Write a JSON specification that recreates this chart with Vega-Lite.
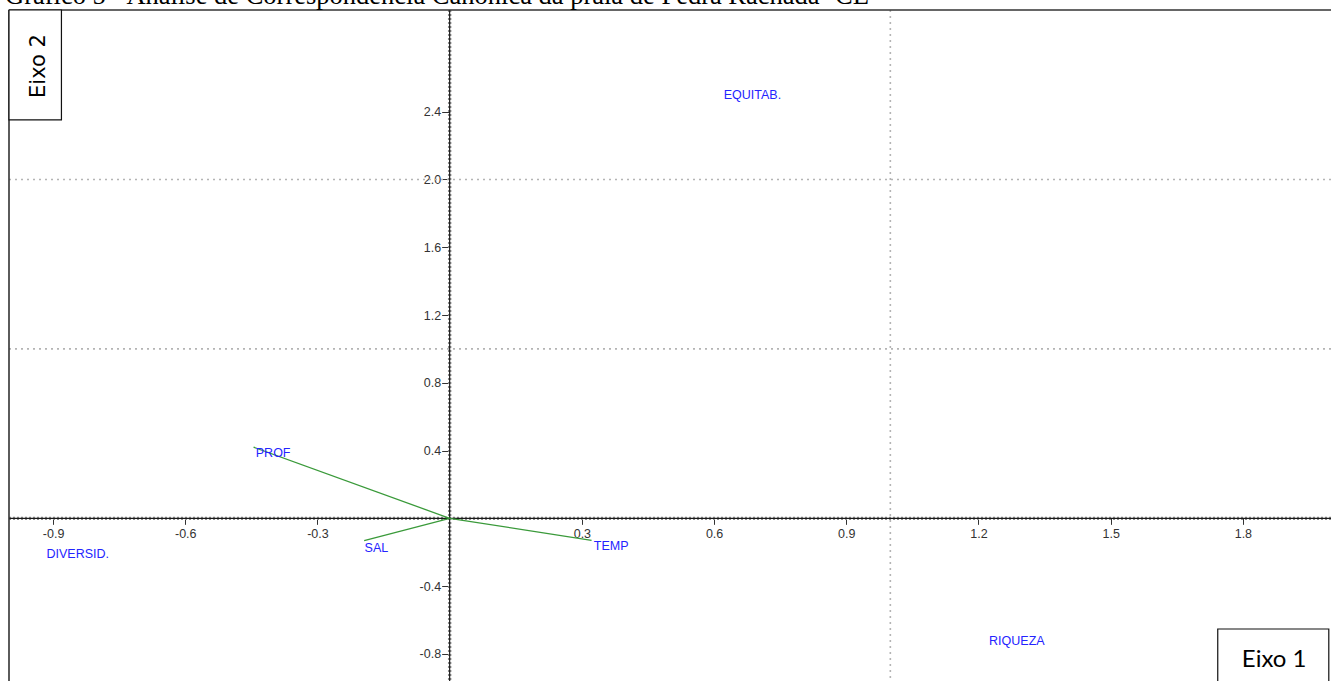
{
  "$schema": "https://vega.github.io/schema/vega-lite/v6.json",
  "width": 1322,
  "height": 671,
  "autosize": {"type": "none"},
  "padding": {"left": 9, "top": 10, "right": 0, "bottom": 0},
  "background": "white",
  "config": {
    "view": {"stroke": null},
    "axis": {
      "grid": false,
      "domain": false,
      "title": null,
      "labelFont": "Liberation Sans",
      "labelFontSize": 12.5,
      "labelColor": "#333333",
      "tickColor": "#333333",
      "tickWidth": 1,
      "labelOverlap": false,
      "labelFlush": false,
      "labelExpr": "replace(format(datum.value, '.1f'), '\u2212', '-')"
    }
  },
  "layer": [
    {
      "data": {"values": [{"valor": 1}]},
      "mark": {"type": "rule", "color": "#b4b4b4", "strokeWidth": 1.6, "strokeDash": [2, 4]},
      "encoding": {
        "x": {"field": "valor", "type": "quantitative", "scale": {"domain": [-1, 2], "nice": false, "zero": false}}
      }
    },
    {
      "data": {"values": [{"valor": 1}, {"valor": 2}]},
      "mark": {"type": "rule", "color": "#b4b4b4", "strokeWidth": 1.6, "strokeDash": [2, 4]},
      "encoding": {
        "y": {"field": "valor", "type": "quantitative", "scale": {"domain": [-0.96, 3], "nice": false, "zero": false}}
      }
    },
    {
      "data": {"values": [{"valor": 0}]},
      "mark": {"type": "rule", "color": "#8c8c8c", "strokeWidth": 3.4, "strokeDash": [2, 2]},
      "encoding": {
        "x": {"field": "valor", "type": "quantitative", "scale": {"domain": [-1, 2], "nice": false, "zero": false}}
      }
    },
    {
      "data": {"values": [{"valor": 0}]},
      "mark": {"type": "rule", "color": "#8c8c8c", "strokeWidth": 3.4, "strokeDash": [2, 2]},
      "encoding": {
        "y": {"field": "valor", "type": "quantitative", "scale": {"domain": [-0.96, 3], "nice": false, "zero": false}}
      }
    },
    {
      "data": {"values": [{"valor": 0}]},
      "mark": {"type": "rule", "color": "#1a1a1a", "strokeWidth": 1.2},
      "encoding": {
        "x": {"field": "valor", "type": "quantitative", "scale": {"domain": [-1, 2], "nice": false, "zero": false}}
      }
    },
    {
      "data": {"values": [{"valor": 0}]},
      "mark": {"type": "rule", "color": "#1a1a1a", "strokeWidth": 1.2},
      "encoding": {
        "y": {"field": "valor", "type": "quantitative", "scale": {"domain": [-0.96, 3], "nice": false, "zero": false}}
      }
    },
    {
      "data": {"values": [{"valor": -1}]},
      "mark": {"type": "rule", "color": "#333333", "strokeWidth": 1.6},
      "encoding": {
        "x": {"field": "valor", "type": "quantitative", "scale": {"domain": [-1, 2], "nice": false, "zero": false}}
      }
    },
    {
      "data": {"values": [{"valor": 3}]},
      "mark": {"type": "rule", "color": "#333333", "strokeWidth": 1.6},
      "encoding": {
        "y": {"field": "valor", "type": "quantitative", "scale": {"domain": [-0.96, 3], "nice": false, "zero": false}}
      }
    },
    {
      "data": {"values": [
        {"variavel": "PROF", "eixo1": -0.445, "eixo2": 0.42},
        {"variavel": "SAL", "eixo1": -0.194, "eixo2": -0.132},
        {"variavel": "TEMP", "eixo1": 0.322, "eixo2": -0.13}
      ]},
      "mark": {"type": "rule", "color": "#3a9a3a", "strokeWidth": 1.3},
      "encoding": {
        "x": {"field": "eixo1", "type": "quantitative", "scale": {"domain": [-1, 2], "nice": false, "zero": false}},
        "y": {"field": "eixo2", "type": "quantitative", "scale": {"domain": [-0.96, 3], "nice": false, "zero": false}},
        "x2": {"datum": 0},
        "y2": {"datum": 0}
      }
    },
    {
      "data": {"values": [
        {"rotulo": "EQUITAB.", "eixo1": 0.622, "eixo2": 2.5},
        {"rotulo": "RIQUEZA", "eixo1": 1.224, "eixo2": -0.726},
        {"rotulo": "DIVERSID.", "eixo1": -0.915, "eixo2": -0.212},
        {"rotulo": "PROF", "eixo1": -0.44, "eixo2": 0.388},
        {"rotulo": "SAL", "eixo1": -0.193, "eixo2": -0.175},
        {"rotulo": "TEMP", "eixo1": 0.327, "eixo2": -0.165}
      ]},
      "mark": {"type": "text", "align": "left", "baseline": "middle", "font": "Liberation Sans", "fontSize": 12.5, "color": "#2424ff"},
      "encoding": {
        "x": {
          "field": "eixo1", "type": "quantitative",
          "scale": {"domain": [-1, 2], "nice": false, "zero": false},
          "axis": {
            "orient": "bottom",
            "offset": -162.67,
            "values": [-0.9, -0.6, -0.3, 0.3, 0.6, 0.9, 1.2, 1.5, 1.8],
            "tickSize": 6,
            "labelPadding": 3
          }
        },
        "y": {
          "field": "eixo2", "type": "quantitative",
          "scale": {"domain": [-0.96, 3], "nice": false, "zero": false},
          "axis": {
            "orient": "left",
            "offset": -440.67,
            "values": [-0.8, -0.4, 0.4, 0.8, 1.2, 1.6, 2.0, 2.4],
            "tickSize": 8,
            "labelPadding": 1
          }
        },
        "text": {"field": "rotulo"}
      }
    },
    {
      "data": {"values": [{"x1": -1, "x2": -0.881, "y1": 2.351, "y2": 3}]},
      "mark": {"type": "rect", "fill": "white", "stroke": "#111111", "strokeWidth": 1.2},
      "encoding": {
        "x": {"field": "x1", "type": "quantitative", "scale": {"domain": [-1, 2], "nice": false, "zero": false}},
        "x2": {"field": "x2"},
        "y": {"field": "y1", "type": "quantitative", "scale": {"domain": [-0.96, 3], "nice": false, "zero": false}},
        "y2": {"field": "y2"}
      }
    },
    {
      "data": {"values": [{"texto": "Eixo 2", "cx": -0.933, "cy": 2.669}]},
      "mark": {"type": "text", "angle": 270, "align": "center", "baseline": "middle", "font": "DejaVu Sans", "fontSize": 21, "color": "#000000"},
      "encoding": {
        "x": {"field": "cx", "type": "quantitative", "scale": {"domain": [-1, 2], "nice": false, "zero": false}},
        "y": {"field": "cy", "type": "quantitative", "scale": {"domain": [-0.96, 3], "nice": false, "zero": false}},
        "text": {"field": "texto"}
      }
    },
    {
      "data": {"values": [{"x1": 1.743, "x2": 1.995, "y1": -1.0, "y2": -0.653}]},
      "mark": {"type": "rect", "fill": "white", "stroke": "#111111", "strokeWidth": 1.2, "clip": true},
      "encoding": {
        "x": {"field": "x1", "type": "quantitative", "scale": {"domain": [-1, 2], "nice": false, "zero": false}},
        "x2": {"field": "x2"},
        "y": {"field": "y1", "type": "quantitative", "scale": {"domain": [-0.96, 3], "nice": false, "zero": false}},
        "y2": {"field": "y2"}
      }
    },
    {
      "data": {"values": [{"texto": "Eixo 1", "cx": 1.871, "cy": -0.876}]},
      "mark": {"type": "text", "align": "center", "baseline": "alphabetic", "font": "Lato", "fontSize": 24, "color": "#000000"},
      "encoding": {
        "x": {"field": "cx", "type": "quantitative", "scale": {"domain": [-1, 2], "nice": false, "zero": false}},
        "y": {"field": "cy", "type": "quantitative", "scale": {"domain": [-0.96, 3], "nice": false, "zero": false}},
        "text": {"field": "texto"}
      }
    },
    {
      "data": {"values": [{"texto": "Gráfico 5 - Análise de Correspondência Canônica da praia de Pedra Rachada- CE", "cx": -1.009, "cy": 3.038}]},
      "mark": {"type": "text", "align": "left", "baseline": "alphabetic", "font": "Liberation Serif", "fontSize": 26.5, "color": "#000000"},
      "encoding": {
        "x": {"field": "cx", "type": "quantitative", "scale": {"domain": [-1, 2], "nice": false, "zero": false}},
        "y": {"field": "cy", "type": "quantitative", "scale": {"domain": [-0.96, 3], "nice": false, "zero": false}},
        "text": {"field": "texto"}
      }
    }
  ]
}
